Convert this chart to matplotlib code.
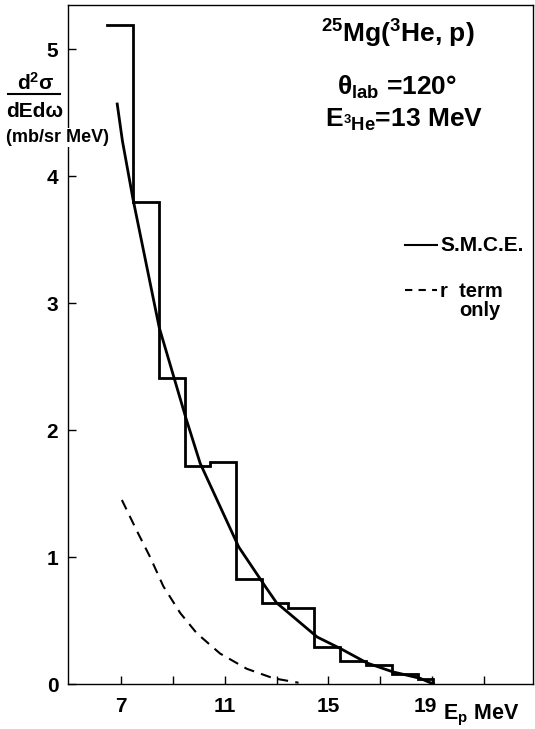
import matplotlib
matplotlib.use('Agg')
import matplotlib.pyplot as plt
import matplotlib.transforms as mtransforms
from matplotlib.ticker import FixedLocator

# ---------------- data ----------------
bin_edges = [6.45, 7.45, 8.45, 9.45, 10.45, 11.45, 12.45, 13.45, 14.45,
             15.45, 16.45, 17.45, 18.45, 19.05]
hist_vals = [5.19, 3.80, 2.41, 1.72, 1.75, 0.83, 0.64, 0.60, 0.29,
             0.18, 0.15, 0.08, 0.04]

smce_E = [6.85, 7.05, 7.46, 8.47, 9.51, 10.05, 11.54, 12.56, 13.0,
          14.57, 15.46, 16.5, 17.5, 18.54, 19.05]
smce_y = [4.57, 4.28, 3.82, 2.81, 2.09, 1.74, 1.08, 0.77, 0.64,
          0.37, 0.28, 0.165, 0.095, 0.045, 0.0]

rterm_E = [7.03, 7.60, 8.12, 8.63, 9.28, 9.92, 10.82, 11.85, 12.88, 13.85]
rterm_y = [1.45, 1.21, 1.00, 0.77, 0.56, 0.40, 0.24, 0.12, 0.045, 0.01]

x_ticks = [7, 9, 11, 13, 15, 17, 19, 21]
x_tick_labels = ['7', '', '11', '', '15', '', '19', '']
y_ticks = [0, 1, 2, 3, 4, 5]

# ---------------- figure ----------------
W, H = 535, 729
fig = plt.figure(figsize=(W / 100, H / 100), dpi=100)
FONT = 'Liberation Sans'
plt.rcParams['font.family'] = [FONT, 'DejaVu Sans']
plt.rcParams['mathtext.fontset'] = 'custom'
plt.rcParams['mathtext.rm'] = 'Liberation Sans:bold'
plt.rcParams['mathtext.it'] = 'Liberation Sans:bold'
plt.rcParams['mathtext.bf'] = 'Liberation Sans:bold'


def px(x, y):
    return x / W, 1 - y / H


ax = fig.add_axes([68 / W, (H - 684) / H, (533 - 68) / W, (684 - 5) / H])
ax.set_xlim(4.95, 22.9)
ax.set_ylim(0, 5.35)

# histogram as step line (no left vertical edge)
xs, ys = [], []
for i, v in enumerate(hist_vals):
    xs += [bin_edges[i], bin_edges[i + 1]]
    ys += [v, v]
xs.append(bin_edges[-1])
ys.append(0)
ax.plot(xs, ys, color='black', lw=2.0, solid_joinstyle='miter')

ax.plot(smce_E, smce_y, color='black', lw=2.0)
ax.plot(rterm_E, rterm_y, color='black', lw=1.5, dashes=(5, 3.5))

for s in ax.spines.values():
    s.set_linewidth(1.0)

ax.xaxis.set_major_locator(FixedLocator(x_ticks))
ax.set_xticklabels(x_tick_labels)
ax.yaxis.set_major_locator(FixedLocator(y_ticks))
ax.set_yticklabels([str(t) for t in y_ticks])
ax.tick_params(axis='both', direction='in', length=6, width=1.0,
               labelsize=15)
ax.tick_params(axis='x', pad=9)
ax.tick_params(axis='y', pad=7)
for lab in ax.get_xticklabels() + ax.get_yticklabels():
    lab.set_fontweight('bold')

# shift the "19" label slightly left, as in the reference
shift = mtransforms.ScaledTranslation(-7 / 100, 0, fig.dpi_scale_trans)
for lab in ax.get_xticklabels():
    if lab.get_text() == '19':
        lab.set_transform(lab.get_transform() + shift)

# x label
fig.text(*px(443, 719), r'E$_{\mathregular{p}}$ MeV', fontsize=15.5,
         fontweight='bold', ha='left', va='baseline')

# y label (fraction)
fig.text(*px(36, 90), r'd$^{2}$σ', fontsize=15, fontweight='bold',
         ha='center', va='baseline')
fig.add_artist(plt.Line2D([8 / W, 60 / W], [1 - 94 / H, 1 - 94 / H],
                          color='black', lw=1.5))
fig.text(*px(35, 117), 'dEdω', fontsize=15, fontweight='bold',
         ha='center', va='baseline')
fig.text(*px(6, 142), '(mb/sr MeV)', fontsize=13, fontweight='bold',
         ha='left', va='baseline',
         bbox=dict(facecolor='white', edgecolor='none', pad=1))

# annotation block
fig.text(*px(321, 43), r'$^{25}$Mg($^{3}$He, p)', fontsize=19,
         fontweight='bold', ha='left', va='baseline')
fig.text(*px(337, 95), r'θ$_{\mathregular{lab}}$ =120°', fontsize=19,
         fontweight='bold', ha='left', va='baseline')
fig.text(*px(325, 127), r'E$_{^{3}\mathregular{He}}$=13 MeV', fontsize=19,
         fontweight='bold', ha='left', va='baseline')

# legend
fig.add_artist(plt.Line2D([405 / W, 437 / W], [1 - 245 / H, 1 - 245 / H],
                          color='black', lw=1.5))
fig.text(*px(440, 251), 'S.M.C.E.', fontsize=15, fontweight='bold',
         ha='left', va='baseline')
fig.add_artist(plt.Line2D([405 / W, 437 / W], [1 - 290 / H, 1 - 290 / H],
                          color='black', lw=1.5, dashes=(3.5, 3)))
fig.text(*px(440, 297), 'r  term', fontsize=14.5, fontweight='bold',
         ha='left', va='baseline')
fig.text(*px(459, 316), 'only', fontsize=14.5, fontweight='bold',
         ha='left', va='baseline')

fig.savefig('out.png', dpi=100)
